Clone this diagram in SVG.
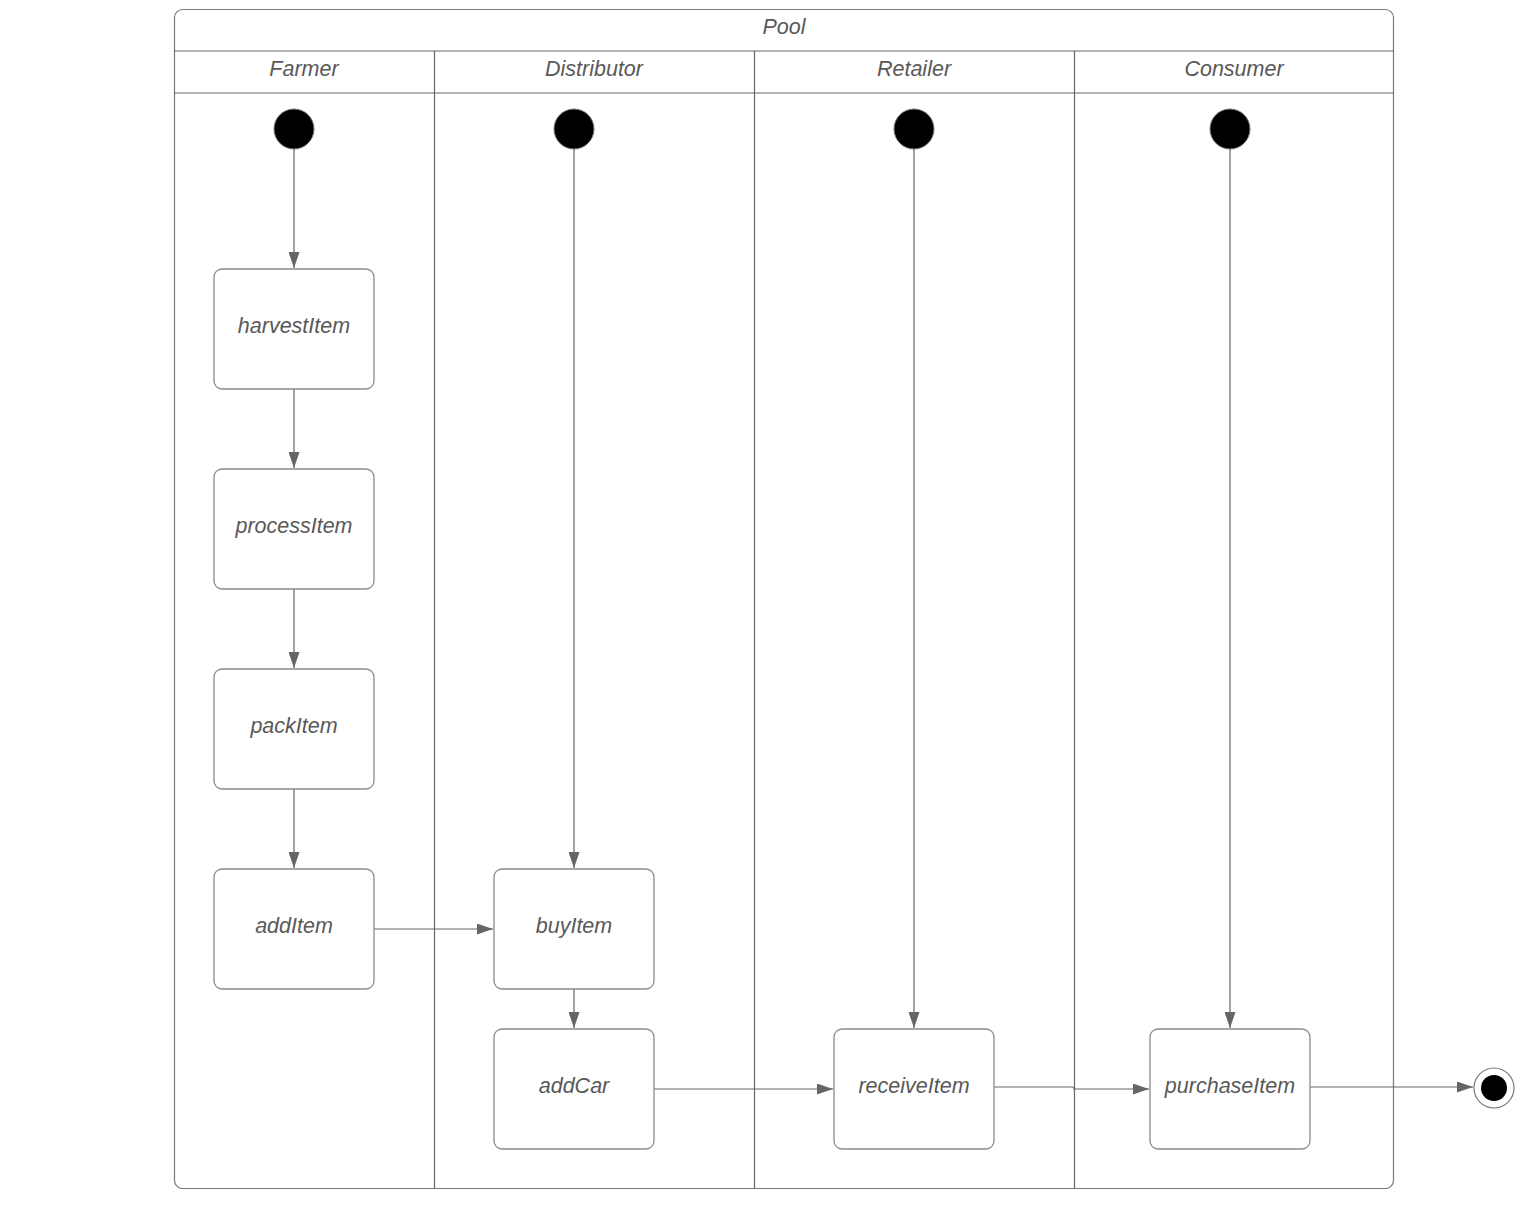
<svg xmlns="http://www.w3.org/2000/svg" width="1527" height="1208" viewBox="0 0 1527 1208">
  <style>
    .frame { fill: none; stroke: #7a7a7a; stroke-width: 1.2; }
    .lane { fill: none; stroke: #666666; stroke-width: 1.2; }
    .box { fill: #ffffff; stroke: #8a8a8a; stroke-width: 1.3; }
    .lbl { font-family: "Liberation Sans", Arial, sans-serif; font-style: italic; font-size: 21.5px; fill: #595959; text-anchor: middle; }
    .start { fill: #000000; stroke: #777777; stroke-width: 1; }
    .edge { fill: none; stroke: #666666; stroke-width: 1.2; }
  </style>
  <defs>
    <marker id="arrow" viewBox="0 0 16 11" refX="16" refY="5.5" markerWidth="16" markerHeight="11" markerUnits="userSpaceOnUse" orient="auto">
      <path d="M0,0 L16,5.5 L0,11 Z" fill="#666666"/>
    </marker>
  </defs>
  <rect width="1527" height="1208" fill="#ffffff"/>

  <!-- pool and swimlanes -->
  <g id="pool">
    <rect class="frame" x="174.5" y="9.5" width="1219" height="1179" rx="8" ry="8"/>
    <line class="lane" x1="174.5" y1="51" x2="1393.5" y2="51"/>
    <line class="lane" x1="174.5" y1="93" x2="1393.5" y2="93"/>
    <line class="lane" x1="434.5" y1="51" x2="434.5" y2="1188.5"/>
    <line class="lane" x1="754.5" y1="51" x2="754.5" y2="1188.5"/>
    <line class="lane" x1="1074.5" y1="51" x2="1074.5" y2="1188.5"/>
    <text class="lbl" x="784" y="34">Pool</text>
    <text class="lbl" x="304" y="76">Farmer</text>
    <text class="lbl" x="594" y="76">Distributor</text>
    <text class="lbl" x="914" y="76">Retailer</text>
    <text class="lbl" x="1234" y="76">Consumer</text>
  </g>

  <!-- connectors -->
  <g id="connectors">
    <line class="edge" x1="294" y1="149" x2="294" y2="268" marker-end="url(#arrow)"/>
    <line class="edge" x1="294" y1="389" x2="294" y2="468" marker-end="url(#arrow)"/>
    <line class="edge" x1="294" y1="589" x2="294" y2="668" marker-end="url(#arrow)"/>
    <line class="edge" x1="294" y1="789" x2="294" y2="868" marker-end="url(#arrow)"/>
    <line class="edge" x1="574" y1="149" x2="574" y2="868" marker-end="url(#arrow)"/>
    <line class="edge" x1="914" y1="149" x2="914" y2="1028" marker-end="url(#arrow)"/>
    <line class="edge" x1="1230" y1="149" x2="1230" y2="1028" marker-end="url(#arrow)"/>
    <line class="edge" x1="374" y1="929" x2="493" y2="929" marker-end="url(#arrow)"/>
    <line class="edge" x1="574" y1="989" x2="574" y2="1028" marker-end="url(#arrow)"/>
    <line class="edge" x1="654" y1="1089" x2="833" y2="1089" marker-end="url(#arrow)"/>
    <path class="edge" d="M994,1087 L1072,1087 Q1074,1087 1074,1089 L1149,1089" marker-end="url(#arrow)"/>
    <line class="edge" x1="1310" y1="1087" x2="1473" y2="1087" marker-end="url(#arrow)"/>
  </g>

  <!-- initial nodes -->
  <g id="start-farmer"><circle class="start" cx="294" cy="129" r="20"/></g>
  <g id="start-distributor"><circle class="start" cx="574" cy="129" r="20"/></g>
  <g id="start-retailer"><circle class="start" cx="914" cy="129" r="20"/></g>
  <g id="start-consumer"><circle class="start" cx="1230" cy="129" r="20"/></g>

  <!-- activities -->
  <g id="harvestItem"><rect class="box" x="214" y="269" width="160" height="120" rx="8"/><text class="lbl" x="294" y="333">harvestItem</text></g>
  <g id="processItem"><rect class="box" x="214" y="469" width="160" height="120" rx="8"/><text class="lbl" x="294" y="533">processItem</text></g>
  <g id="packItem"><rect class="box" x="214" y="669" width="160" height="120" rx="8"/><text class="lbl" x="294" y="733">packItem</text></g>
  <g id="addItem"><rect class="box" x="214" y="869" width="160" height="120" rx="8"/><text class="lbl" x="294" y="933">addItem</text></g>
  <g id="buyItem"><rect class="box" x="494" y="869" width="160" height="120" rx="8"/><text class="lbl" x="574" y="933">buyItem</text></g>
  <g id="addCar"><rect class="box" x="494" y="1029" width="160" height="120" rx="8"/><text class="lbl" x="574" y="1093">addCar</text></g>
  <g id="receiveItem"><rect class="box" x="834" y="1029" width="160" height="120" rx="8"/><text class="lbl" x="914" y="1093">receiveItem</text></g>
  <g id="purchaseItem"><rect class="box" x="1150" y="1029" width="160" height="120" rx="8"/><text class="lbl" x="1230" y="1093">purchaseItem</text></g>

  <!-- final node -->
  <g id="end">
    <circle cx="1494" cy="1088" r="20" fill="#ffffff" stroke="#777777" stroke-width="1.2"/>
    <circle cx="1494" cy="1088" r="13" fill="#000000"/>
  </g>
</svg>
